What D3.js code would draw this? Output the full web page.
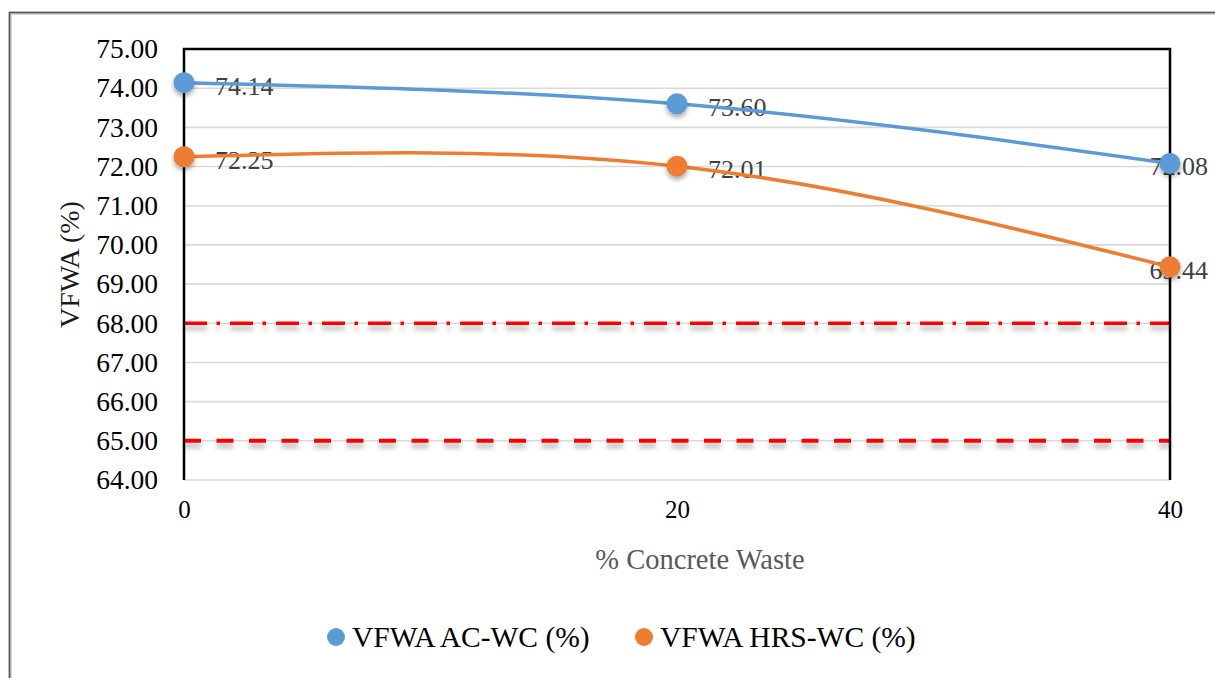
<!DOCTYPE html>
<html>
<head>
<meta charset="utf-8">
<script src="https://cdn.jsdelivr.net/npm/d3@7"></script>
<style>
  html, body { margin: 0; padding: 0; background: #fff; }
  svg { display: block; }
  text { font-family: "Liberation Serif", "Times New Roman", serif; }
</style>
</head>
<body>
<svg id="chart" width="1215" height="678"></svg>
<script>
// Concrete waste content (%) on the x axis
const concreteWaste = [0, 20, 40];
// VFWA values for each mix
const vfwaAC = [74.14, 73.60, 72.08];
const vfwaHRS = [72.25, 72.01, 69.44];
const seriesNames = ["VFWA AC-WC (%)", "VFWA HRS-WC (%)"];
// Specification limits
const limitUpper = 68;
const limitLower = 65;
// Axis ticks
const yTicks = [64, 65, 66, 67, 68, 69, 70, 71, 72, 73, 74, 75];
const xTicks = [0, 20, 40];

const svg = d3.select("#chart");
const W = 1215, H = 678;
const plot = { left: 184, right: 1170, top: 49, bottom: 480 };
const colors = ["#5B9BD5", "#ED7D31"];

const x = d3.scaleLinear().domain([0, 40]).range([plot.left, plot.right]);
const y = d3.scaleLinear().domain([64, 75]).range([plot.bottom, plot.top]);

// Filters for soft drop shadows
const defs = svg.append("defs");
const fMark = defs.append("filter").attr("id", "markShadow")
  .attr("x", "-50%").attr("y", "-50%").attr("width", "200%").attr("height", "220%");
fMark.append("feDropShadow").attr("dx", 0).attr("dy", 3).attr("stdDeviation", 2.5)
  .attr("flood-color", "#000").attr("flood-opacity", 0.35);
const fLine = defs.append("filter").attr("id", "lineShadow")
  .attr("filterUnits", "userSpaceOnUse")
  .attr("x", 0).attr("y", 0).attr("width", W).attr("height", H);
fLine.append("feDropShadow").attr("dx", 0).attr("dy", 5).attr("stdDeviation", 2.5)
  .attr("flood-color", "#000").attr("flood-opacity", 0.3);

// Outer chart frame
svg.append("rect").attr("x", 11).attr("y", 14).attr("width", W + 20).attr("height", H + 20)
  .attr("fill", "none").attr("stroke", "#d9d9d9").attr("stroke-width", 2);
svg.append("rect").attr("x", 9.5).attr("y", 12.5).attr("width", W + 20).attr("height", H + 20)
  .attr("fill", "none").attr("stroke", "#595959").attr("stroke-width", 1.8);

// Horizontal gridlines
svg.append("g").selectAll("line").data(yTicks.filter(d => d < 75)).join("line")
  .attr("x1", plot.left).attr("x2", plot.right)
  .attr("y1", d => y(d)).attr("y2", d => y(d))
  .attr("stroke", "#d9d9d9").attr("stroke-width", 1.6);

// Specification limit lines
svg.append("line")
  .attr("x1", plot.left).attr("x2", plot.right)
  .attr("y1", y(limitUpper)).attr("y2", y(limitUpper))
  .attr("stroke", "#ff0000").attr("stroke-width", 3.5)
  .attr("stroke-dasharray", "23 9.5 3.5 10")
  .attr("filter", "url(#lineShadow)");
svg.append("line")
  .attr("x1", plot.left).attr("x2", plot.right)
  .attr("y1", y(limitLower)).attr("y2", y(limitLower))
  .attr("stroke", "#ff0000").attr("stroke-width", 4)
  .attr("stroke-dasharray", "17 15.5")
  .attr("filter", "url(#lineShadow)");

// Plot frame: left axis, top and right borders
svg.append("path")
  .attr("d", `M${plot.left},${plot.bottom} V${plot.top} H${plot.right} V${plot.bottom}`)
  .attr("fill", "none").attr("stroke", "#000").attr("stroke-width", 2.5);

// Y axis labels
const yAxis = d3.axisLeft(y).tickValues(yTicks).tickSize(0).tickPadding(26)
  .tickFormat(d3.format(".2f"));
const gy = svg.append("g").attr("transform", `translate(${plot.left},0)`).call(yAxis);
gy.select(".domain").remove();
gy.selectAll("text").attr("font-size", 27.5).attr("fill", "#000")
  .style("font-family", "'Liberation Serif', 'Times New Roman', serif");

// X axis labels
const xAxis = d3.axisBottom(x).tickValues(xTicks).tickSize(0).tickPadding(20)
  .tickFormat(d3.format("d"));
const gx = svg.append("g").attr("transform", `translate(0,${plot.bottom})`).call(xAxis);
gx.select(".domain").remove();
gx.selectAll("text").attr("font-size", 25).attr("fill", "#000")
  .style("font-family", "'Liberation Serif', 'Times New Roman', serif");

// Axis titles
svg.append("text").attr("x", 700).attr("y", 569).attr("text-anchor", "middle")
  .attr("font-size", 28.5).attr("fill", "#595959").text("% Concrete Waste");
svg.append("text").attr("transform", `translate(79,${(plot.top + plot.bottom) / 2}) rotate(-90)`)
  .attr("text-anchor", "middle").attr("font-size", 28).attr("fill", "#1a1a1a").text("VFWA (%)");

const series = [vfwaAC, vfwaHRS].map((vals, i) => ({
  name: seriesNames[i], color: colors[i],
  points: vals.map((v, j) => ({ x: concreteWaste[j], v }))
}));

// Data labels
const labelLimit = 1208;
const gLab = svg.append("g");
series.forEach(s => {
  s.points.forEach(p => {
    const t = gLab.append("text").attr("font-size", 26).attr("fill", "#404040")
      .attr("y", y(p.v) + 12).text(p.v.toFixed(2));
    const w = t.node().getComputedTextLength();
    const px = x(p.x) + 31;
    if (px + w > labelLimit) t.attr("x", labelLimit).attr("text-anchor", "end");
    else t.attr("x", px);
  });
});

// Smoothed series lines
const line = d3.line().x(d => x(d.x)).y(d => y(d.v)).curve(d3.curveNatural);
series.forEach(s => {
  svg.append("path").datum(s.points).attr("d", line)
    .attr("fill", "none").attr("stroke", s.color).attr("stroke-width", 3.5);
});

// Markers
series.forEach(s => {
  svg.append("g").selectAll("circle").data(s.points).join("circle")
    .attr("cx", d => x(d.x)).attr("cy", d => y(d.v)).attr("r", 10.5)
    .attr("fill", s.color).attr("filter", "url(#markShadow)");
});

// Legend
const legendX = [336, 644];
const gLeg = svg.append("g");
series.forEach((s, i) => {
  gLeg.append("circle").attr("cx", legendX[i]).attr("cy", 637).attr("r", 9).attr("fill", s.color);
  gLeg.append("text").attr("x", legendX[i] + 16).attr("y", 647)
    .attr("font-size", 29.5).attr("fill", "#000").text(s.name);
});
</script>
</body>
</html>
